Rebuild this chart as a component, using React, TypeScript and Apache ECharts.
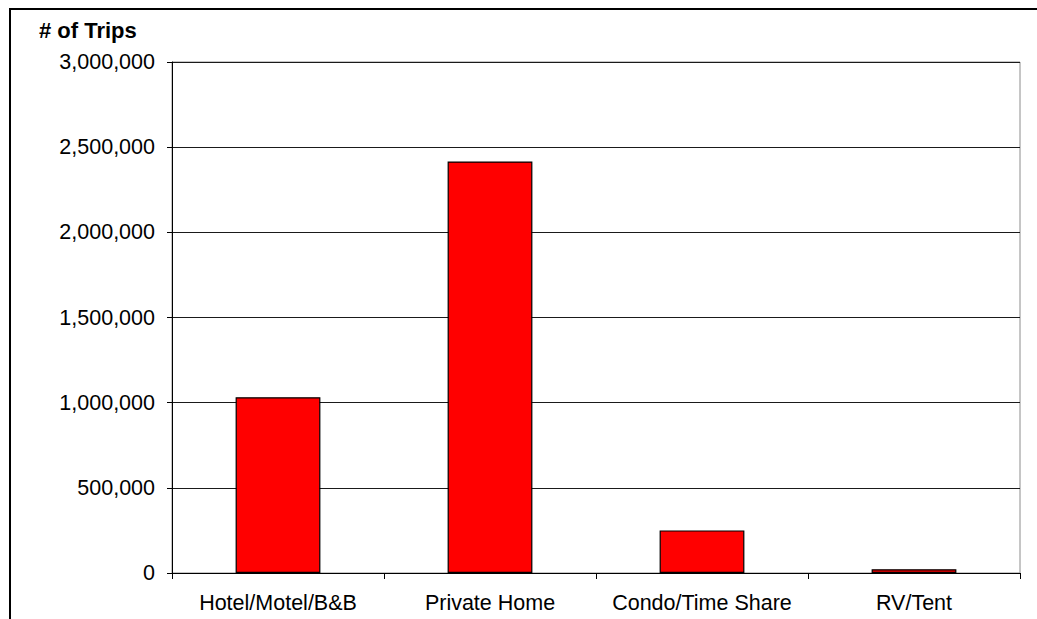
import React, { useEffect, useRef } from "react";
import * as echarts from "echarts";

const categories = ["Hotel/Motel/B&B", "Private Home", "Condo/Time Share", "RV/Tent"];
const trips = [1032000, 2416000, 250000, 22000];
const yTicks = [0, 500000, 1000000, 1500000, 2000000, 2500000, 3000000];

const FONT = "'Liberation Sans', Arial, sans-serif";

export default function App() {
  const ref = useRef<HTMLDivElement>(null);
  useEffect(() => {
    document.body.style.margin = "0";
    const chart = echarts.init(ref.current!, null, { renderer: "svg" });
    chart.setOption({
      animation: false,
      backgroundColor: "#ffffff",
      textStyle: { fontFamily: FONT },
      title: {
        text: "# of Trips",
        left: 34,
        top: 14,
        textStyle: { fontFamily: FONT, fontSize: 22, fontWeight: "bold", color: "#000" },
      },
      graphic: [
        {
          type: "polyline",
          shape: { points: [[10, 640], [10, 9], [1050, 9]] },
          style: { stroke: "#000", lineWidth: 2, fill: "none" },
          silent: true,
        },
      ],
      grid: {
        left: 172,
        top: 62,
        right: 17,
        bottom: 46,
        show: true,
        borderColor: "#8c8c8c",
        borderWidth: 1,
      },
      xAxis: {
        type: "category",
        data: categories,
        axisLine: { show: true, lineStyle: { color: "#000", width: 1 } },
        axisTick: { show: true, interval: 0, alignWithLabel: false, length: 6, lineStyle: { color: "#000" } },
        axisLabel: { color: "#000", fontSize: 21.5, fontFamily: FONT, margin: 19, interval: 0, hideOverlap: false },
        splitLine: { show: false },
      },
      yAxis: {
        type: "value",
        min: 0,
        max: yTicks[yTicks.length - 1],
        interval: yTicks[1] - yTicks[0],
        axisLine: { show: true, lineStyle: { color: "#000", width: 1 } },
        axisTick: { show: true, length: 5, lineStyle: { color: "#000" } },
        axisLabel: {
          color: "#000",
          fontSize: 21.5,
          fontFamily: FONT,
          margin: 17,
          formatter: (v: number) => v.toLocaleString("en-US"),
        },
        splitLine: { show: true, lineStyle: { color: "#1a1a1a", width: 1 } },
      },
      series: [
        {
          type: "bar",
          data: trips,
          barWidth: "40%",
          itemStyle: { color: "#ff0000", borderColor: "#000", borderWidth: 1.2 },
        },
      ],
    });
    return () => chart.dispose();
  }, []);
  return (
    <div
      ref={ref}
      style={{ position: "absolute", left: 0, top: 0, width: 1037, height: 619 }}
    />
  );
}
